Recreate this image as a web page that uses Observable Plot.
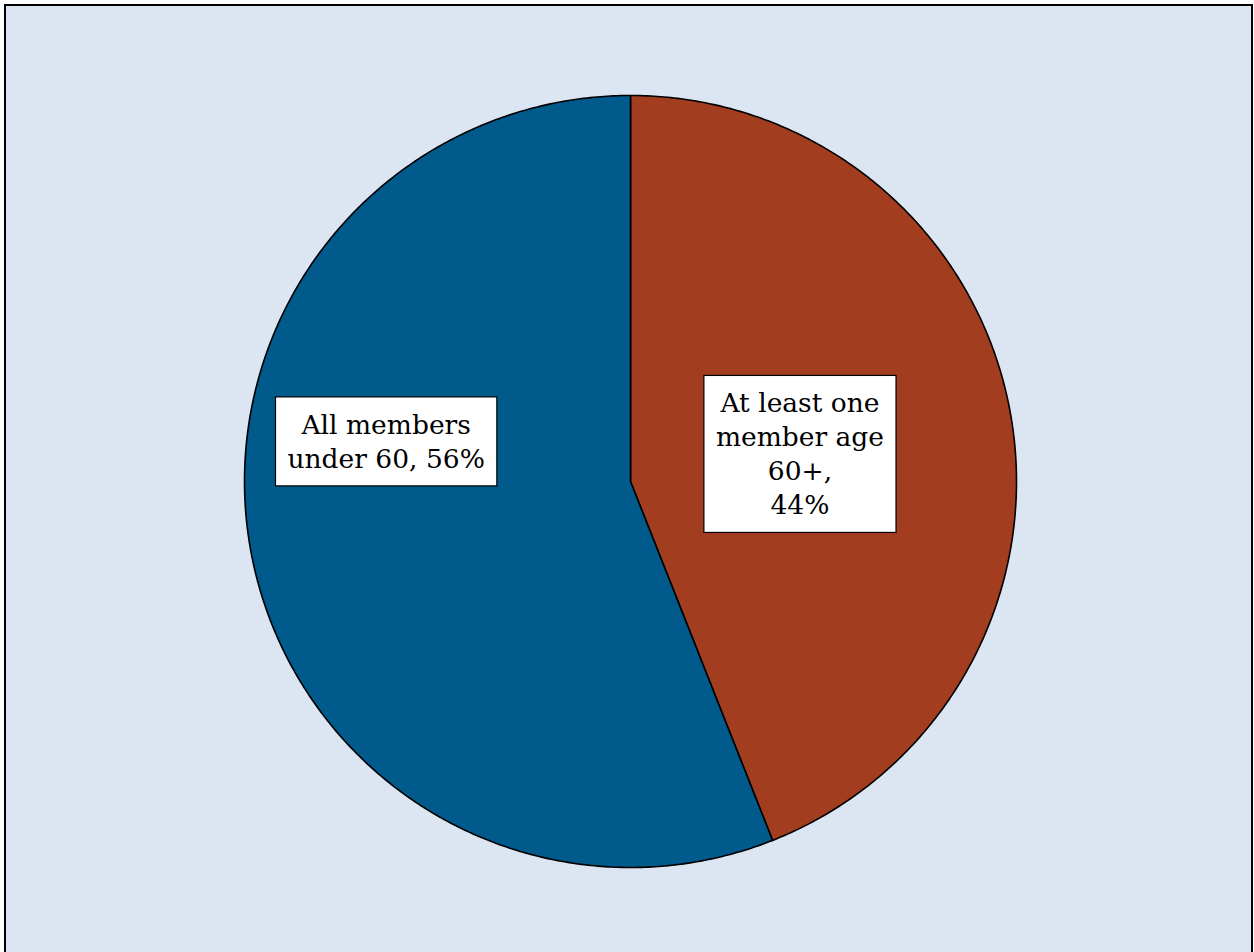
<!DOCTYPE html>
<html>
<head>
<meta charset="utf-8">
<script src="https://cdn.jsdelivr.net/npm/d3@7"></script>
<script src="https://cdn.jsdelivr.net/npm/@observablehq/plot@0.6"></script>
<style>
  html, body { margin: 0; padding: 0; background: #ffffff; }
  #chart { width: 1254px; height: 952px; overflow: hidden; }
</style>
</head>
<body>
<div id="chart"></div>
<script>
// ---- data ----
const categories = ["At least one member age 60+", "All members under 60"];
const shares = [44, 56];
const labels = ["At least one\nmember age\n60+,\n44%", "All members\nunder 60, 56%"];
const colors = ["#A33D20", "#005A8C"];
// label anchor offsets in unit-circle space (layout)
const labelX = [0.439, -0.633];
const labelY = [0.075, 0.1075];

// ---- build slices via d3.pie (clockwise from 12 o'clock) ----
const pie = d3.pie().sort(null).value(d => d.value).startAngle(0).endAngle(2 * Math.PI);
const rows = categories.map((c, i) => ({category: c, value: shares[i], color: colors[i], label: labels[i], lx: labelX[i], ly: labelY[i]}));
const arcs = pie(rows);

function slicePoints(a) {
  const pts = [{x: 0, y: 0}];
  const n = Math.max(2, Math.ceil((a.endAngle - a.startAngle) / (Math.PI / 360)));
  for (let k = 0; k <= n; k++) {
    const t = a.startAngle + (a.endAngle - a.startAngle) * k / n;
    pts.push({x: Math.sin(t), y: Math.cos(t)});
  }
  pts.push({x: 0, y: 0});
  return pts;
}

const marks = arcs.map(a => Plot.line(slicePoints(a), {
  x: "x", y: "y", fill: a.data.color, stroke: "#000", strokeWidth: 1.6, curve: "linear", strokeLinejoin: "round"
}));

marks.push(Plot.text(rows, {
  x: "lx", y: "ly", text: "label",
  fontSize: 26.5, lineHeight: 34 / 26.5, fill: "#000",
  textAnchor: "middle", lineAnchor: "middle",
  fontFamily: "'DejaVu Serif', serif",
  className: "pielabel"
}));

const plot = Plot.plot({
  width: 1254,
  height: 952,
  marginLeft: 244,
  marginRight: 238,
  marginTop: 95,
  marginBottom: 85,
  x: {domain: [-1, 1], axis: null},
  y: {domain: [-1, 1], axis: null},
  style: {background: "transparent", fontFamily: "'DejaVu Serif', serif"},
  marks
});

document.getElementById("chart").appendChild(plot);

// background panel with border
const svg = d3.select(plot);
svg.insert("rect", ":first-child")
  .attr("x", 5).attr("y", 5).attr("width", 1247).attr("height", 960)
  .attr("fill", "#DCE6F2").attr("stroke", "#000").attr("stroke-width", 2);

// white boxes behind labels
svg.selectAll("g.pielabel text").each(function () {
  const b = this.getBBox();
  const padX = 12, padY = 12;
  d3.select(this.parentNode).insert("rect", () => this)
    .attr("transform", this.getAttribute("transform"))
    .attr("x", b.x - padX).attr("y", b.y - padY)
    .attr("width", b.width + 2 * padX).attr("height", b.height + 2 * padY)
    .attr("fill", "#fff").attr("stroke", "#000").attr("stroke-width", 1.2);
});
</script>
</body>
</html>
